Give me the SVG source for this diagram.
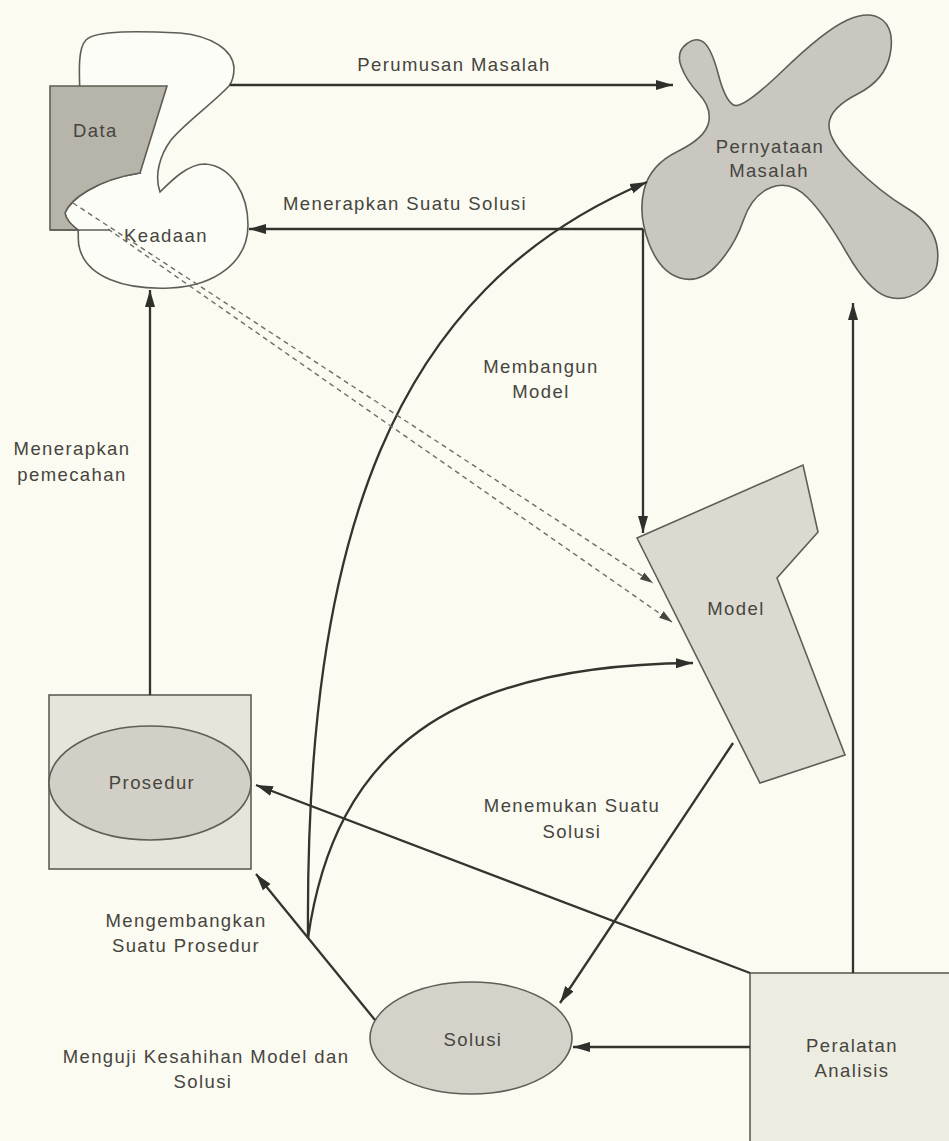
<svg xmlns="http://www.w3.org/2000/svg" width="949" height="1141" viewBox="0 0 949 1141">
  <style>
    text { font-family: "Liberation Sans", Arial, sans-serif; font-size: 18.5px; letter-spacing: 1.4px; fill: #46453f; }
    .mid { text-anchor: middle; }
    .shape { stroke: #5f5d56; stroke-width: 1.6; }
    .conn { fill: none; stroke: #34342f; stroke-width: 2.3; }
    .dash { fill: none; stroke: #6f6d66; stroke-width: 1.4; stroke-dasharray: 5 4; }
  </style>
  <defs>
    <marker id="arrow" markerUnits="userSpaceOnUse" markerWidth="18" markerHeight="13" refX="17" refY="6.5" orient="auto">
      <path d="M0,1.5 L17,6.5 L0,11.5 Z" fill="#2f2f2b"/>
    </marker>
    <marker id="arrowSmall" markerUnits="userSpaceOnUse" markerWidth="14" markerHeight="10" refX="13" refY="5" orient="auto">
      <path d="M0,1 L13,5 L0,9 Z" fill="#45443f"/>
    </marker>
  </defs>

  <rect width="949" height="1141" fill="#fbfbf1"/>

  <!-- Keadaan: white blob, partly behind the Data panel -->
  <g id="keadaan">
    <path class="shape" fill="#fdfdf7" d="M80,95 C79,70 78,48 86,40 C96,30 140,31 180,33 C212,36 233,50 234,68 C234,76 232,82 229,86 C212,104 186,122 171,140 C160,155 154,175 160,192 C172,180 188,164 205,164 C232,166 248,195 248,225 C248,262 215,286 170,288 C122,290 88,276 80,250 C77,242 79,236 78,230 C72,226 66,220 65,213 C70,200 95,180 140,173 Z"/>
    <text x="124" y="242">Keadaan</text>
  </g>

  <!-- Data panel -->
  <g id="data">
    <path class="shape" fill="#b7b4aa" d="M50,86 L167,86 L140,173 C95,180 70,200 65,213 C66,220 72,225 78,230 L50,230 Z"/>
    <path class="shape" fill="none" d="M50,230 H110"/>
    <text x="73" y="137">Data</text>
  </g>

  <!-- Pernyataan Masalah: four-armed blob -->
  <g id="pernyataan">
    <path class="shape" fill="#c9c7bf" d="M704.5,43 Q697,36 686.5,44 Q676,52 681,66 Q686,80 699,94 Q712,108 708.5,123 Q705,138 677.5,151.5 Q650,165 644,190 Q638,215 649,243.5 Q660,272 680,278 Q700,284 717.5,264.5 Q735,245 743.5,220 Q752,195 771,187.5 Q790,180 807.5,197.5 Q825,215 846.5,252.5 Q868,290 886.5,296.5 Q905,303 922.5,289 Q940,275 937.5,250 Q935,225 907.5,208.5 Q880,192 854,166 Q828,140 829,124 Q830,108 857.5,94 Q885,80 890,55 Q895,30 882.5,20 Q870,10 847.5,20 Q825,30 783.5,70 Q742,110 733.5,105 Q725,100 718.5,75 Q712,50 704.5,43 Z"/>
    <text class="mid" x="770" y="153">Pernyataan</text>
    <text class="mid" x="769" y="177">Masalah</text>
  </g>

  <!-- Model -->
  <g id="model">
    <path class="shape" fill="#dcdad0" d="M637,538 L803,465 L818,532 L777,578 L845,755 L760,783 Z"/>
    <text class="mid" x="736" y="615">Model</text>
  </g>

  <!-- Prosedur -->
  <g id="prosedur">
    <rect class="shape" x="49" y="695" width="202" height="174" fill="#e7e5d9"/>
    <ellipse class="shape" cx="150" cy="783" rx="101" ry="57" fill="#d2cfc6"/>
    <text class="mid" x="152" y="789">Prosedur</text>
  </g>

  <!-- Solusi -->
  <g id="solusi">
    <ellipse class="shape" cx="471" cy="1038" rx="101" ry="56" fill="#d5d2c9"/>
    <text class="mid" x="473" y="1046">Solusi</text>
  </g>

  <!-- Peralatan Analisis -->
  <g id="peralatan">
    <rect class="shape" x="750" y="973" width="215" height="190" fill="#edece1"/>
    <text class="mid" x="852" y="1052">Peralatan</text>
    <text class="mid" x="852" y="1077">Analisis</text>
  </g>

  <!-- Connectors -->
  <g id="connectors">
    <path class="conn" d="M230,85 H673" marker-end="url(#arrow)"/>
    <path class="conn" d="M643,229 H249" marker-end="url(#arrow)"/>
    <path class="conn" d="M643,229 V533" marker-end="url(#arrow)"/>
    <path class="conn" d="M150,695 V290" marker-end="url(#arrow)"/>
    <path class="conn" d="M853,973 V303" marker-end="url(#arrow)"/>
    <path class="conn" d="M750,1047 H573" marker-end="url(#arrow)"/>
    <path class="conn" d="M750,973 L256,785" marker-end="url(#arrow)"/>
    <path class="conn" d="M733,743 L560,1003" marker-end="url(#arrow)"/>
    <path class="conn" d="M375,1020 L256,874" marker-end="url(#arrow)"/>
    <path class="conn" d="M308,938 C305,540 390,290 647,182" marker-end="url(#arrow)"/>
    <path class="conn" d="M308,938 C335,750 450,665 693,663" marker-end="url(#arrow)"/>
    <path class="dash" d="M73,203 L653,583" marker-end="url(#arrowSmall)"/>
    <path class="dash" d="M108,229 L672,622" marker-end="url(#arrowSmall)"/>
  </g>

  <!-- Connector labels -->
  <g id="labels">
    <text class="mid" x="454" y="71">Perumusan Masalah</text>
    <text class="mid" x="405" y="210">Menerapkan Suatu Solusi</text>
    <text class="mid" x="72" y="455">Menerapkan</text>
    <text class="mid" x="72" y="481">pemecahan</text>
    <text class="mid" x="541" y="373">Membangun</text>
    <text class="mid" x="541" y="398">Model</text>
    <text class="mid" x="572" y="812">Menemukan Suatu</text>
    <text class="mid" x="572" y="838">Solusi</text>
    <text class="mid" x="186" y="927">Mengembangkan</text>
    <text class="mid" x="186" y="952">Suatu Prosedur</text>
    <text class="mid" x="206" y="1063">Menguji Kesahihan Model dan</text>
    <text class="mid" x="203" y="1088">Solusi</text>
  </g>
</svg>
